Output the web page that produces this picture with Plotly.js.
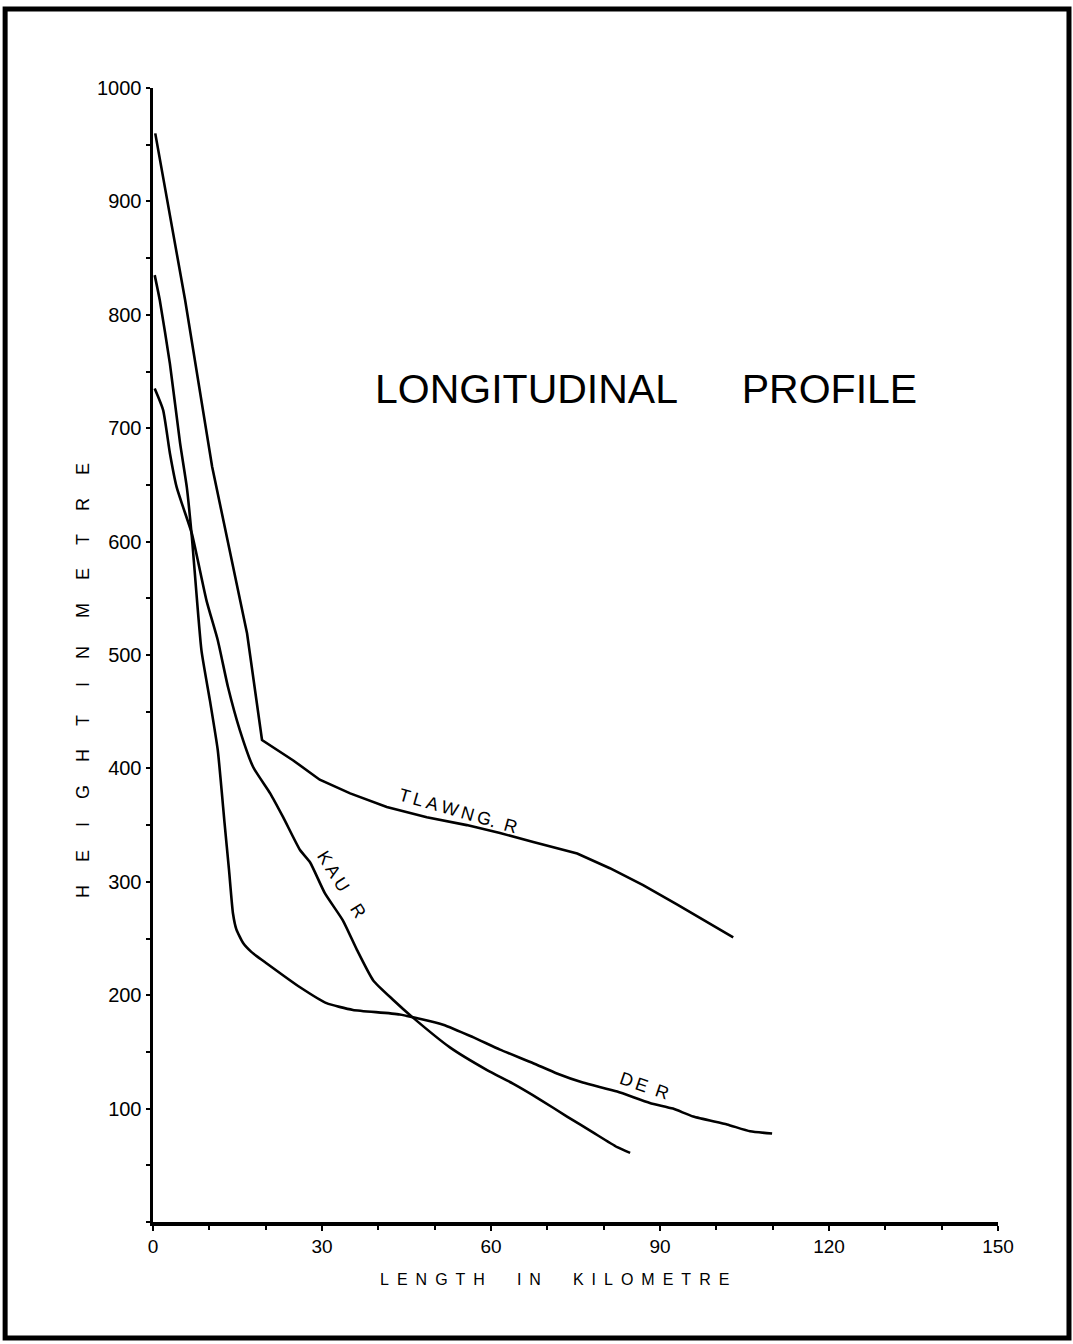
<!DOCTYPE html>
<html>
<head>
<meta charset="utf-8">
<script src="https://cdn.plot.ly/plotly-3.0.1.min.js"></script>
<style>
  html, body { margin: 0; padding: 0; background: #ffffff; }
  #chart { width: 1073px; height: 1344px; }
</style>
</head>
<body>
<div id="chart"></div>
<script>
// Distance along river (km) and height (m)
const tlawngX = [0.4, 5.7, 10.5, 16.7, 19.35, 24.9, 29.6, 35.0, 41.5, 48.6, 55.7, 61.6, 67.5, 75.3, 81.1, 87.0, 93.0, 98.3, 103.0];
const tlawngY = [960, 813, 666, 519, 425, 407, 390, 378, 366, 357, 350, 343, 335, 325, 312, 297, 280, 265, 251];

const derX = [0.3, 1.2, 3.0, 4.8, 6.0, 6.9, 8.6, 10.1, 11.5, 12.7, 13.5, 14.2, 14.8, 16.0, 17.5, 20.2, 26.1, 30.8, 35.5, 43.8, 51.5, 56.8, 61.6, 67.5, 71.7, 76.3, 82.4, 88.2, 92.3, 95.9, 101.9, 106.0, 109.9];
const derY = [835, 813, 757, 687, 648, 604, 504, 460, 416, 352, 310, 272, 258, 246, 238, 228, 207, 193, 187, 183, 174, 163, 152, 140, 131, 123, 115, 105, 100, 93, 86, 80, 78];

const kauX = [0.3, 1.8, 3.0, 4.2, 5.3, 6.9, 9.5, 11.5, 13.3, 15.4, 17.8, 20.8, 23.1, 26.1, 27.9, 30.5, 33.7, 36.2, 39.1, 42.6, 46.2, 52.7, 59.3, 63.9, 68.7, 73.5, 78.1, 82.4, 84.7];
const kauY = [735, 716, 678, 648, 631, 607, 548, 513, 472, 434, 401, 378, 357, 328, 317, 290, 266, 240, 213, 196, 180, 154, 134, 122, 108, 93, 79, 66, 61];

const xTickVals = [0, 30, 60, 90, 120, 150];
const xTickText = ['0', '30', '60', '90', '120', '150'];
const yTickVals = [100, 200, 300, 400, 500, 600, 700, 800, 900, 1000];
const yTickText = ['100', '200', '300', '400', '500', '600', '700', '800', '900', '1000'];

const lineStyle = {color: '#000000', width: 2.6};
const smoothStyle = {color: '#000000', width: 2.6, shape: 'spline', smoothing: 0.5};
const traces = [
  {x: tlawngX, y: tlawngY, mode: 'lines', line: lineStyle, name: 'TLAWNG R', hoverinfo: 'x+y'},
  {x: derX, y: derY, mode: 'lines', line: smoothStyle, name: 'DE R', hoverinfo: 'x+y'},
  {x: kauX, y: kauY, mode: 'lines', line: smoothStyle, name: 'KAU R', hoverinfo: 'x+y'}
];

const lblFont = {family: 'Liberation Sans, Arial, sans-serif', size: 18, color: '#000'};

const layout = {
  width: 1073, height: 1344,
  margin: {l: 153, r: 75, t: 88, b: 122},
  paper_bgcolor: '#ffffff', plot_bgcolor: '#ffffff',
  showlegend: false,
  font: {family: 'Liberation Sans, Arial, sans-serif', color: '#000'},
  xaxis: {
    range: [0, 150], showgrid: false, zeroline: false,
    showline: true, linecolor: '#000', linewidth: 3.5,
    tickmode: 'array', tickvals: xTickVals, ticktext: xTickText,
    ticks: 'outside', ticklen: 5, tickwidth: 2, tickcolor: '#000',
    tickfont: {size: 19, color: '#000'},
    minor: {tickmode: 'linear', tick0: 0, dtick: 10, ticks: 'outside', ticklen: 4, tickwidth: 2, tickcolor: '#000', showgrid: false}
  },
  yaxis: {
    range: [0, 1000], showgrid: false, zeroline: false,
    showline: true, linecolor: '#000', linewidth: 3.5,
    tickmode: 'array', tickvals: yTickVals, ticktext: yTickText,
    ticks: 'outside', ticklen: 4, tickwidth: 2, tickcolor: '#000',
    tickfont: {size: 20, color: '#000'},
    minor: {tickmode: 'linear', tick0: 0, dtick: 50, ticks: 'outside', ticklen: 4, tickwidth: 2, tickcolor: '#000', showgrid: false}
  },
  annotations: [
    {xref: 'paper', yref: 'paper', x: 0.5834, y: 0.7346, xanchor: 'center', yanchor: 'middle', showarrow: false,
     text: 'LONGITUDINAL\u2003\u00A0\u00A0PROFILE', font: {family: 'Liberation Sans, Arial, sans-serif', size: 41, color: '#000'}},
    {xref: 'paper', yref: 'paper', x: 0.4746, y: -0.0511, xanchor: 'center', yanchor: 'middle', showarrow: false,
     text: 'L\u2002E\u2002N\u2002G\u2002T\u2002H\u2002\u2002\u2002\u2002I\u2002N\u2002\u2002\u2002\u2002K\u2002I\u2002L\u2002O\u2002M\u2002E\u2002T\u2002R\u2002E',
     font: {family: 'Liberation Sans, Arial, sans-serif', size: 16, color: '#000'}},
    {xref: 'paper', yref: 'paper', x: -0.0828, y: 0.477, xanchor: 'center', yanchor: 'middle', showarrow: false, textangle: -90,
     text: 'H\u2003\u00A0E\u2003\u00A0I\u2003\u00A0G\u2003\u00A0H\u2003\u00A0T\u2003\u00A0\u00A0I\u2003\u00A0N\u2003\u00A0\u00A0M\u2003\u00A0E\u2003\u00A0T\u2003\u00A0R\u2003\u00A0E',
     font: {family: 'Liberation Sans, Arial, sans-serif', size: 18, color: '#000'}},
    {xref: 'x', yref: 'y', x: 54.1, y: 362, showarrow: false, textangle: 16,
     text: 'T\u2009L\u2009A\u2009W\u2009N\u2009G.\u2002R', font: lblFont},
    {xref: 'x', yref: 'y', x: 33.4, y: 298, showarrow: false, textangle: 58,
     text: 'K\u2009A\u2009U\u2003R', font: lblFont},
    {xref: 'x', yref: 'y', x: 87.3, y: 120, showarrow: false, textangle: 19,
     text: 'D\u2009E\u2002R', font: lblFont}
  ],
  shapes: [
    {type: 'rect', xref: 'paper', yref: 'paper', x0: -0.175, x1: 1.084, y0: -0.1023, y1: 1.0697,
     line: {color: '#000', width: 5}, fillcolor: 'rgba(0,0,0,0)', layer: 'below'}
  ]
};

Plotly.newPlot('chart', traces, layout, {staticPlot: true, displayModeBar: false});
</script>
</body>
</html>
